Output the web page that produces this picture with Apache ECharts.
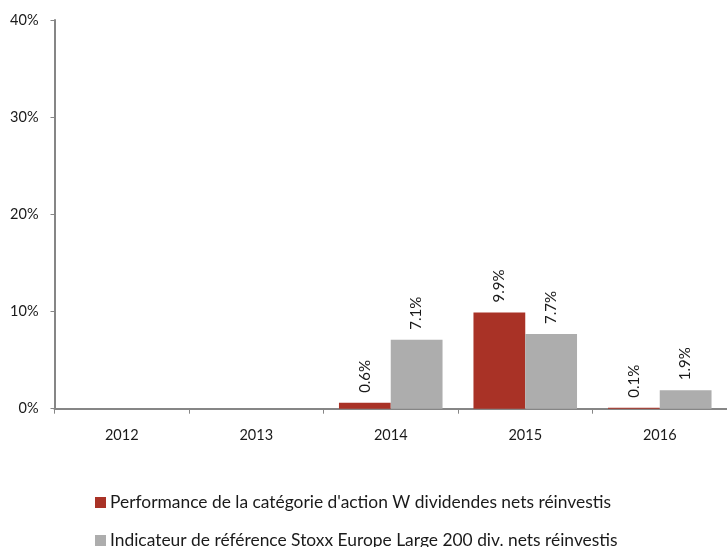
<!DOCTYPE html>
<html><head><meta charset="utf-8">
<script src="https://cdn.jsdelivr.net/npm/echarts@6/dist/echarts.min.js"></script>
<style>html,body{margin:0;padding:0;background:#fff}#c{width:727px;height:547px}</style>
</head><body><div id="c"></div>
<script>
const categories = ['2012','2013','2014','2015','2016'];
const fundValues = [null, null, 0.6, 9.9, 0.1];
const indexValues = [null, null, 7.1, 7.7, 1.9];
const fundName = "Performance de la catégorie d'action W dividendes nets réinvestis";
const indexName = "Indicateur de référence Stoxx Europe Large 200 div. nets réinvestis";
const yTicks = [0, 10, 20, 30, 40];

const FONT = 'Lato';
const chart = echarts.init(document.getElementById('c'), null, {renderer:'canvas'});
const lbl = {
  show: true, position: 'top', rotate: 90, align: 'left', verticalAlign: 'middle',
  distance: 10, color: '#1a1a1a', fontFamily: FONT, fontSize: 15,
  formatter: p => p.value == null ? '' : p.value.toFixed(1) + '%'
};
chart.setOption({
  animation: false,
  grid: {left: 54.5, right: -1.5, top: 20, bottom: 138.3, containLabel: false},
  legend: [
    {data: [fundName], left: 90, top: 489, itemWidth: 11, itemHeight: 11, itemGap: 0,
     icon: 'rect', textStyle: {fontFamily: FONT, fontSize: 17.4, color: '#1a1a1a', padding: [0,0,0,-1]}},
    {data: [indexName], left: 90, top: 527, itemWidth: 11, itemHeight: 11, itemGap: 0,
     icon: 'rect', textStyle: {fontFamily: FONT, fontSize: 17.4, color: '#1a1a1a', padding: [0,0,0,-1]}}
  ],
  xAxis: {
    type: 'category', data: categories,
    axisLine: {lineStyle: {color: '#868686', width: 2}},
    axisTick: {show: true, length: 5, lineStyle: {color: '#868686'}},
    axisLabel: {color: '#1a1a1a', fontFamily: FONT, fontSize: 14.5, margin: 19}
  },
  yAxis: {
    type: 'value', min: yTicks[0], max: yTicks[yTicks.length-1], interval: 10,
    axisLine: {show: true, lineStyle: {color: '#868686', width: 2}},
    axisTick: {show: true, length: 4, lineStyle: {color: '#868686'}},
    splitLine: {show: false},
    axisLabel: {color: '#1a1a1a', fontFamily: FONT, fontSize: 14.5, margin: 16, formatter: v => v + '%'}
  },
  series: [
    {name: fundName, type: 'bar', data: fundValues, barGap: '0%', barCategoryGap: '23%',
     itemStyle: {color: '#A93226'}, label: lbl},
    {name: indexName, type: 'bar', data: indexValues, barGap: '0%', barCategoryGap: '23%',
     itemStyle: {color: '#ADADAD'}, label: lbl}
  ]
});
</script></body></html>
